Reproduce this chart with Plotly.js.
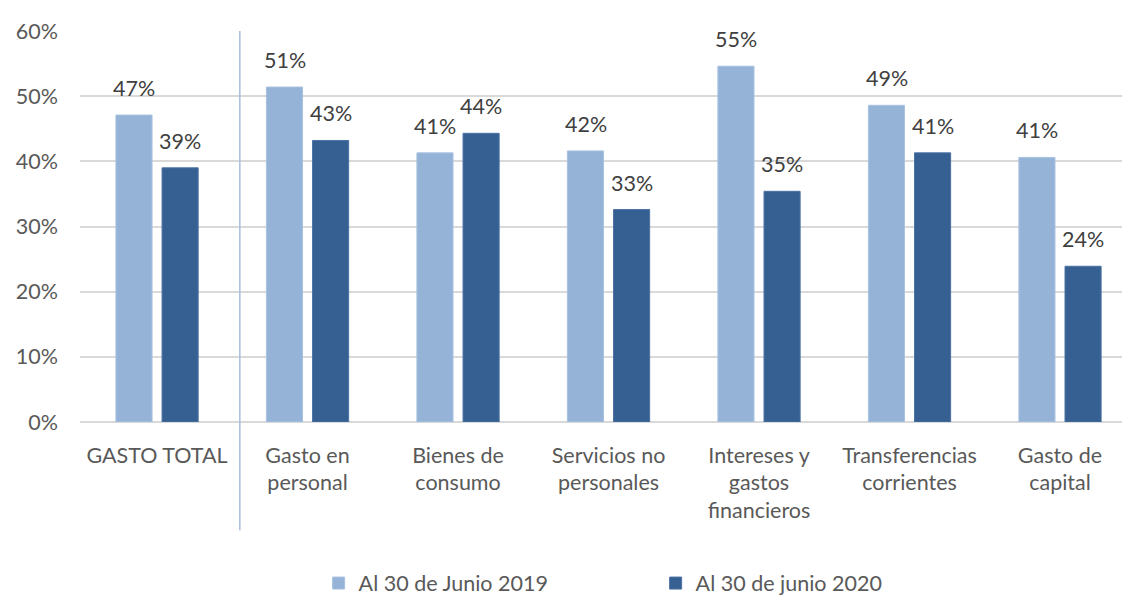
<!DOCTYPE html>
<html>
<head>
<meta charset="utf-8">
<script src="https://cdn.plot.ly/plotly-3.0.1.min.js"></script>
<style>html,body{margin:0;padding:0;background:#fff;}#chart{width:1122px;height:597px;}</style>
</head>
<body>
<div id="chart"></div>
<script>
const categories = ["GASTO TOTAL", "Gasto en<br>personal", "Bienes de<br>consumo", "Servicios no<br>personales", "Intereses y<br>gastos<br>financieros", "Transferencias<br>corrientes", "Gasto de<br>capital"];
const series2019Name = "Al 30 de Junio 2019";
const series2020Name = "Al 30 de junio 2020";
const values2019 = [47.1, 51.4, 41.3, 41.6, 54.6, 48.6, 40.6];
const values2020 = [39.0, 43.2, 44.3, 32.6, 35.4, 41.3, 23.9];
const yTicks = [0, 10, 20, 30, 40, 50, 60];

const FONT = "Lato, 'Open Sans', sans-serif";
const FS = 21.5;
const c2019 = "#95B3D7";
const c2020 = "#366092";

const traces = [
  {type: "bar", name: series2019Name, x: categories, y: values2019,
   marker: {color: c2019, line: {color: "#A9C2E0", width: 1}}, hoverinfo: "skip"},
  {type: "bar", name: series2020Name, x: categories, y: values2020,
   marker: {color: c2020, line: {color: "#4A72A3", width: 1}}, hoverinfo: "skip"}
];

const annotations = [];
[[values2019, -23], [values2020, 23]].forEach(([vals, dx]) => {
  vals.forEach((v, i) => {
    annotations.push({x: categories[i], y: v, xref: "x", yref: "y", text: Math.round(v) + "%",
      showarrow: false, yanchor: "bottom", xshift: dx, yshift: 12,
      font: {family: FONT, size: FS, color: "#404040"}});
  });
});

const layout = {
  width: 1122, height: 597,
  margin: {l: 80, r: 0, t: 31, b: 175, autoexpand: false},
  paper_bgcolor: "#fff", plot_bgcolor: "#fff",
  font: {family: FONT, size: FS, color: "#595959"},
  barmode: "group", bargap: 0.387, bargroupgap: 0.217,
  showlegend: true,
  legend: {orientation: "h", x: 0.229, xanchor: "left", y: -0.412, yanchor: "middle",
    entrywidth: 292, entrywidthmode: "pixels", font: {family: FONT, size: FS, color: "#595959"},
    itemwidth: 30, traceorder: "normal"},
  xaxis: {type: "category", range: [-0.512, 6.412], showgrid: false, zeroline: false, automargin: false,
    showline: false, ticks: "", ticklabelstandoff: 18, tickfont: {family: FONT, size: FS, color: "#595959"}, fixedrange: true},
  yaxis: {range: [0, 60], tickvals: yTicks, ticktext: yTicks.map(t => t + "%"), showgrid: true, automargin: false,
    gridcolor: "#D9D9D9", gridwidth: 2, zeroline: true, zerolinecolor: "#D9D9D9", zerolinewidth: 2,
    showline: false, ticks: "", ticklabelstandoff: 21, tickfont: {family: FONT, size: FS, color: "#595959"}, fixedrange: true},
  shapes: [{type: "line", xref: "x", yref: "paper", x0: 0.55, x1: 0.55, y0: -0.277, y1: 1,
    line: {color: "#A9BEDC", width: 1.5}}],
  annotations: annotations
};

Plotly.newPlot("chart", traces, layout, {displayModeBar: false, staticPlot: true});
</script>
</body>
</html>
